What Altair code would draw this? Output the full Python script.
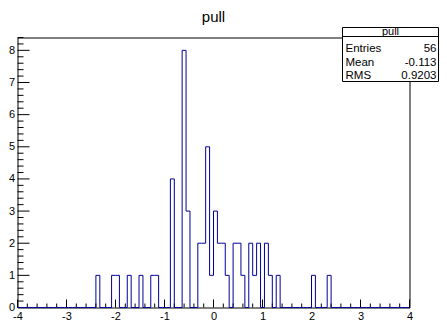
import altair as alt
import pandas as pd

# ---- histogram definition (100 bins from -4 to 4) ----
x_min, x_max, n_bins = -4.0, 4.0, 100
counts = [
    0, 0, 0, 0, 0, 0, 0, 0, 0, 0,
    0, 0, 0, 0, 0, 0, 0, 0, 0, 0,
    1, 0, 0, 0, 1, 1, 0, 0, 1, 0,
    0, 1, 0, 0, 1, 1, 0, 0, 0, 4,
    0, 0, 8, 3, 0, 0, 2, 2, 5, 1,
    3, 2, 2, 1, 0, 2, 2, 1, 0, 2,
    1, 2, 0, 2, 1, 0, 1, 0, 0, 0,
    0, 0, 0, 0, 0, 1, 0, 0, 0, 1,
    0, 0, 0, 0, 0, 0, 0, 0, 0, 0,
    0, 0, 0, 0, 0, 0, 0, 0, 0, 0,
]
title_text = "pull"
stat_names = ["Entries", "Mean", "RMS"]
stat_values = ["56", "-0.113", "0.9203"]

x_major = [-4, -3, -2, -1, 0, 1, 2, 3, 4]
y_major = [0, 1, 2, 3, 4, 5, 6, 7, 8]
y_max = 8.4

W, H = 392, 270
FONT = "Liberation Sans"
LINE_COLOR = "#000099"

bw = (x_max - x_min) / n_bins
edges = [round(x_min + bw * i, 4) for i in range(n_bins + 1)]
hist_df = pd.DataFrame({"x": edges, "y": counts + [0]})

x_minor = [round(x_min + 0.2 * i, 2) for i in range(41) if (i % 5) != 0]
y_minor = [round(0.2 * i, 2) for i in range(43) if (i % 5) != 0]

xs = alt.Scale(domain=[x_min, x_max], nice=False, zero=False)
ys = alt.Scale(domain=[0, y_max], nice=False, zero=True)

x_axis = alt.Axis(values=x_major, ticks=False, domain=False, grid=False, title=None,
                  labelFont=FONT, labelFontSize=11, labelColor="black", labelPadding=3,
                  labelExpr="datum.value + ''", labelFlush=False, labelOverlap=False)
y_axis = alt.Axis(values=y_major, ticks=False, domain=False, grid=False, title=None,
                  labelFont=FONT, labelFontSize=11, labelColor="black", labelPadding=3,
                  labelExpr="datum.value + ''", labelOverlap=False)


def X(f):
    return alt.X(f, scale=xs, axis=x_axis)


def Y(f):
    return alt.Y(f, scale=ys, axis=y_axis)


# inward ticks
ymaj = alt.Chart(pd.DataFrame({"v": y_major})).mark_rule(color="black", strokeWidth=1).encode(
    y=Y("v:Q"), x=alt.value(0), x2=alt.value(12))
ymin = alt.Chart(pd.DataFrame({"v": y_minor})).mark_rule(color="black", strokeWidth=1).encode(
    y=Y("v:Q"), x=alt.value(0), x2=alt.value(6))
xmaj = alt.Chart(pd.DataFrame({"v": x_major})).mark_rule(color="black", strokeWidth=1).encode(
    x=X("v:Q"), y=alt.value(H), y2=alt.value(H - 8))
xmin_ = alt.Chart(pd.DataFrame({"v": x_minor})).mark_rule(color="black", strokeWidth=1).encode(
    x=X("v:Q"), y=alt.value(H), y2=alt.value(H - 4))

hist = alt.Chart(hist_df).mark_line(interpolate="step-after", color=LINE_COLOR, strokeWidth=1).encode(
    x=X("x:Q"), y=Y("y:Q"))

one = pd.DataFrame({"a": [0]})
title = alt.Chart(one).mark_text(text=title_text, font=FONT, fontSize=15, color="black",
                                 align="center", baseline="alphabetic").encode(
    x=alt.value(W / 2), y=alt.value(-16))

# stats box
bx0, bx1, by0, by1, bdiv = 325, 421, -10, 44, -1
box = alt.Chart(one).mark_rect(fill="white", stroke="black", strokeWidth=1).encode(
    x=alt.value(bx0), x2=alt.value(bx1), y=alt.value(by0), y2=alt.value(by1))
div = alt.Chart(one).mark_rule(color="black", strokeWidth=1).encode(
    x=alt.value(bx0), x2=alt.value(bx1), y=alt.value(bdiv))
hdr = alt.Chart(one).mark_text(text=title_text, font=FONT, fontSize=11, color="black",
                               align="center", baseline="alphabetic").encode(
    x=alt.value((bx0 + bx1) / 2), y=alt.value(-2.5))

stat_layers = []
for i, (n, v) in enumerate(zip(stat_names, stat_values)):
    yb = 14.2 + 13.8 * i
    stat_layers.append(alt.Chart(one).mark_text(text=n, font=FONT, fontSize=11.5, color="black",
                                                align="left", baseline="alphabetic").encode(
        x=alt.value(bx0 + 3), y=alt.value(yb)))
    stat_layers.append(alt.Chart(one).mark_text(text=v, font=FONT, fontSize=11.5, color="black",
                                                align="right", baseline="alphabetic").encode(
        x=alt.value(bx1 - 2), y=alt.value(yb)))

chart = alt.layer(ymaj, ymin, xmaj, xmin_, hist, title, box, div, hdr, *stat_layers).properties(
    width=W, height=H,
    background="white",
    autosize=alt.AutoSizeParams(type="none"),
    padding={"left": 9.5, "top": 29.5, "right": 29.5, "bottom": 15},
).configure_view(stroke="black", strokeWidth=1)

chart.save("out.html", embed_options={"renderer": "svg", "actions": False})
